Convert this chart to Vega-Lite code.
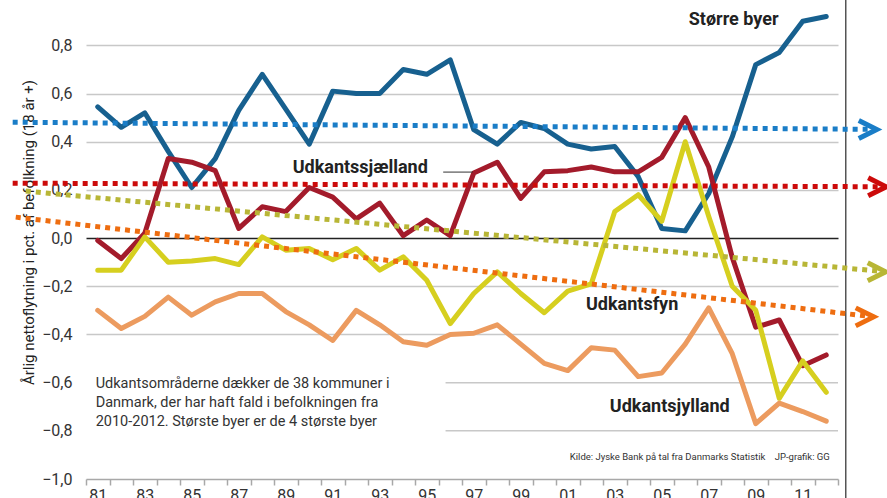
{
  "$schema": "https://vega.github.io/schema/vega-lite/v6.json",
  "autosize": {"type": "none"},
  "padding": {"left": 86, "top": 2, "right": 49, "bottom": 19},
  "width": 752,
  "height": 477,
  "config": {
    "font": "Roboto",
    "view": {"stroke": null},
    "background": "white"
  },
  "datasets": {
    "series": [
      {"series": "Større byer", "year": 1981, "value": 0.545},
      {"series": "Større byer", "year": 1982, "value": 0.46},
      {"series": "Større byer", "year": 1983, "value": 0.52},
      {"series": "Større byer", "year": 1984, "value": 0.36},
      {"series": "Større byer", "year": 1985, "value": 0.21},
      {"series": "Større byer", "year": 1986, "value": 0.33},
      {"series": "Større byer", "year": 1987, "value": 0.53},
      {"series": "Større byer", "year": 1988, "value": 0.68},
      {"series": "Større byer", "year": 1989, "value": 0.535},
      {"series": "Større byer", "year": 1990, "value": 0.39},
      {"series": "Større byer", "year": 1991, "value": 0.61},
      {"series": "Større byer", "year": 1992, "value": 0.6},
      {"series": "Større byer", "year": 1993, "value": 0.6},
      {"series": "Større byer", "year": 1994, "value": 0.7},
      {"series": "Større byer", "year": 1995, "value": 0.68},
      {"series": "Større byer", "year": 1996, "value": 0.74},
      {"series": "Større byer", "year": 1997, "value": 0.45},
      {"series": "Større byer", "year": 1998, "value": 0.39},
      {"series": "Større byer", "year": 1999, "value": 0.48},
      {"series": "Større byer", "year": 2000, "value": 0.455},
      {"series": "Større byer", "year": 2001, "value": 0.39},
      {"series": "Større byer", "year": 2002, "value": 0.37},
      {"series": "Større byer", "year": 2003, "value": 0.38},
      {"series": "Større byer", "year": 2004, "value": 0.255},
      {"series": "Større byer", "year": 2005, "value": 0.04},
      {"series": "Større byer", "year": 2006, "value": 0.03},
      {"series": "Større byer", "year": 2007, "value": 0.185},
      {"series": "Større byer", "year": 2008, "value": 0.42},
      {"series": "Større byer", "year": 2009, "value": 0.72},
      {"series": "Større byer", "year": 2010, "value": 0.77},
      {"series": "Større byer", "year": 2011, "value": 0.9},
      {"series": "Større byer", "year": 2012, "value": 0.92},
      {"series": "Udkantssjælland", "year": 1981, "value": -0.01},
      {"series": "Udkantssjælland", "year": 1982, "value": -0.085},
      {"series": "Udkantssjælland", "year": 1983, "value": 0.02},
      {"series": "Udkantssjælland", "year": 1984, "value": 0.33},
      {"series": "Udkantssjælland", "year": 1985, "value": 0.315},
      {"series": "Udkantssjælland", "year": 1986, "value": 0.28},
      {"series": "Udkantssjælland", "year": 1987, "value": 0.04},
      {"series": "Udkantssjælland", "year": 1988, "value": 0.13},
      {"series": "Udkantssjælland", "year": 1989, "value": 0.11},
      {"series": "Udkantssjælland", "year": 1990, "value": 0.21},
      {"series": "Udkantssjælland", "year": 1991, "value": 0.17},
      {"series": "Udkantssjælland", "year": 1992, "value": 0.08},
      {"series": "Udkantssjælland", "year": 1993, "value": 0.145},
      {"series": "Udkantssjælland", "year": 1994, "value": 0.01},
      {"series": "Udkantssjælland", "year": 1995, "value": 0.075},
      {"series": "Udkantssjælland", "year": 1996, "value": 0.01},
      {"series": "Udkantssjælland", "year": 1997, "value": 0.27},
      {"series": "Udkantssjælland", "year": 1998, "value": 0.315},
      {"series": "Udkantssjælland", "year": 1999, "value": 0.165},
      {"series": "Udkantssjælland", "year": 2000, "value": 0.275},
      {"series": "Udkantssjælland", "year": 2001, "value": 0.28},
      {"series": "Udkantssjælland", "year": 2002, "value": 0.295},
      {"series": "Udkantssjælland", "year": 2003, "value": 0.275},
      {"series": "Udkantssjælland", "year": 2004, "value": 0.275},
      {"series": "Udkantssjælland", "year": 2005, "value": 0.335},
      {"series": "Udkantssjælland", "year": 2006, "value": 0.5},
      {"series": "Udkantssjælland", "year": 2007, "value": 0.295},
      {"series": "Udkantssjælland", "year": 2008, "value": -0.08},
      {"series": "Udkantssjælland", "year": 2009, "value": -0.37},
      {"series": "Udkantssjælland", "year": 2010, "value": -0.34},
      {"series": "Udkantssjælland", "year": 2011, "value": -0.53},
      {"series": "Udkantssjælland", "year": 2012, "value": -0.485},
      {"series": "Udkantsfyn", "year": 1981, "value": -0.133},
      {"series": "Udkantsfyn", "year": 1982, "value": -0.133},
      {"series": "Udkantsfyn", "year": 1983, "value": 0.005},
      {"series": "Udkantsfyn", "year": 1984, "value": -0.1},
      {"series": "Udkantsfyn", "year": 1985, "value": -0.095},
      {"series": "Udkantsfyn", "year": 1986, "value": -0.085},
      {"series": "Udkantsfyn", "year": 1987, "value": -0.11},
      {"series": "Udkantsfyn", "year": 1988, "value": 0.005},
      {"series": "Udkantsfyn", "year": 1989, "value": -0.05},
      {"series": "Udkantsfyn", "year": 1990, "value": -0.043},
      {"series": "Udkantsfyn", "year": 1991, "value": -0.09},
      {"series": "Udkantsfyn", "year": 1992, "value": -0.043},
      {"series": "Udkantsfyn", "year": 1993, "value": -0.133},
      {"series": "Udkantsfyn", "year": 1994, "value": -0.078},
      {"series": "Udkantsfyn", "year": 1995, "value": -0.175},
      {"series": "Udkantsfyn", "year": 1996, "value": -0.355},
      {"series": "Udkantsfyn", "year": 1997, "value": -0.23},
      {"series": "Udkantsfyn", "year": 1998, "value": -0.14},
      {"series": "Udkantsfyn", "year": 1999, "value": -0.23},
      {"series": "Udkantsfyn", "year": 2000, "value": -0.31},
      {"series": "Udkantsfyn", "year": 2001, "value": -0.22},
      {"series": "Udkantsfyn", "year": 2002, "value": -0.19},
      {"series": "Udkantsfyn", "year": 2003, "value": 0.11},
      {"series": "Udkantsfyn", "year": 2004, "value": 0.18},
      {"series": "Udkantsfyn", "year": 2005, "value": 0.07},
      {"series": "Udkantsfyn", "year": 2006, "value": 0.4},
      {"series": "Udkantsfyn", "year": 2007, "value": 0.09},
      {"series": "Udkantsfyn", "year": 2008, "value": -0.2},
      {"series": "Udkantsfyn", "year": 2009, "value": -0.3},
      {"series": "Udkantsfyn", "year": 2010, "value": -0.665},
      {"series": "Udkantsfyn", "year": 2011, "value": -0.51},
      {"series": "Udkantsfyn", "year": 2012, "value": -0.64},
      {"series": "Udkantsjylland", "year": 1981, "value": -0.3},
      {"series": "Udkantsjylland", "year": 1982, "value": -0.375},
      {"series": "Udkantsjylland", "year": 1983, "value": -0.325},
      {"series": "Udkantsjylland", "year": 1984, "value": -0.245},
      {"series": "Udkantsjylland", "year": 1985, "value": -0.32},
      {"series": "Udkantsjylland", "year": 1986, "value": -0.265},
      {"series": "Udkantsjylland", "year": 1987, "value": -0.23},
      {"series": "Udkantsjylland", "year": 1988, "value": -0.23},
      {"series": "Udkantsjylland", "year": 1989, "value": -0.305},
      {"series": "Udkantsjylland", "year": 1990, "value": -0.36},
      {"series": "Udkantsjylland", "year": 1991, "value": -0.425},
      {"series": "Udkantsjylland", "year": 1992, "value": -0.3},
      {"series": "Udkantsjylland", "year": 1993, "value": -0.36},
      {"series": "Udkantsjylland", "year": 1994, "value": -0.43},
      {"series": "Udkantsjylland", "year": 1995, "value": -0.445},
      {"series": "Udkantsjylland", "year": 1996, "value": -0.4},
      {"series": "Udkantsjylland", "year": 1997, "value": -0.395},
      {"series": "Udkantsjylland", "year": 1998, "value": -0.36},
      {"series": "Udkantsjylland", "year": 1999, "value": -0.44},
      {"series": "Udkantsjylland", "year": 2000, "value": -0.52},
      {"series": "Udkantsjylland", "year": 2001, "value": -0.55},
      {"series": "Udkantsjylland", "year": 2002, "value": -0.455},
      {"series": "Udkantsjylland", "year": 2003, "value": -0.465},
      {"series": "Udkantsjylland", "year": 2004, "value": -0.575},
      {"series": "Udkantsjylland", "year": 2005, "value": -0.56},
      {"series": "Udkantsjylland", "year": 2006, "value": -0.44},
      {"series": "Udkantsjylland", "year": 2007, "value": -0.29},
      {"series": "Udkantsjylland", "year": 2008, "value": -0.48},
      {"series": "Udkantsjylland", "year": 2009, "value": -0.77},
      {"series": "Udkantsjylland", "year": 2010, "value": -0.685},
      {"series": "Udkantsjylland", "year": 2011, "value": -0.72},
      {"series": "Udkantsjylland", "year": 2012, "value": -0.76}
    ],
    "trend": [
      {"series": "Trend Større byer", "year": 1977.38, "value": 0.481, "end": false},
      {"series": "Trend Større byer", "year": 2014.15, "value": 0.451, "end": true},
      {"series": "Trend Udkantssjælland", "year": 1977.38, "value": 0.228, "end": false},
      {"series": "Trend Udkantssjælland", "year": 2014.55, "value": 0.213, "end": true},
      {"series": "Trend Udkantsfyn", "year": 1977.94, "value": 0.195, "end": false},
      {"series": "Trend Udkantsfyn", "year": 2014.53, "value": -0.14, "end": true},
      {"series": "Trend Udkantsjylland", "year": 1977.51, "value": 0.087, "end": false},
      {"series": "Trend Udkantsjylland", "year": 2014.02, "value": -0.327, "end": true}
    ],
    "partialGrid": [
      {"value": -0.6, "from": 1995.8, "to": 2012.5},
      {"value": -0.8, "from": 1995.8, "to": 2012.5}
    ],
    "labels": [
      {"label": "Større byer", "year": 2008.06, "value": 0.905},
      {"label": "Udkantssjælland", "year": 1992.17, "value": 0.29},
      {"label": "Udkantsfyn", "year": 2003.74, "value": -0.278},
      {"label": "Udkantsjylland", "year": 2005.34, "value": -0.7}
    ],
    "leader": [
      {"from": 1995.7, "to": 1996.96, "value": 0.274}
    ],
    "note": [
      {"text": "Udkantsområderne dækker de 38 kommuner i\nDanmark, der har haft fald i befolkningen fra\n2010-2012. Største byer er de 4 største byer", "year": 1980.91, "value": -0.577}
    ],
    "source": [
      {"text": "Kilde: Jyske Bank på tal fra Danmarks Statistik\u00a0\u00a0\u00a0\u00a0JP-grafik: GG", "year": 2012.15, "value": -0.909}
    ],
    "frame": [
      {"year": 2012.83, "from": -1.1, "to": 1.0}
    ]
  },
  "encoding": {
    "x": {
      "field": "year",
      "type": "quantitative",
      "scale": {"domain": [1980.5, 2012.5], "nice": false, "zero": false},
      "axis": {
        "title": null,
        "values": [1980.5, 1981.5, 1982.5, 1983.5, 1984.5, 1985.5, 1986.5, 1987.5, 1988.5, 1989.5, 1990.5, 1991.5, 1992.5, 1993.5, 1994.5, 1995.5, 1996.5, 1997.5, 1998.5, 1999.5, 2000.5, 2001.5, 2002.5, 2003.5, 2004.5, 2005.5, 2006.5, 2007.5, 2008.5, 2009.5, 2010.5, 2011.5, 2012.5],
        "labelExpr": "(datum.value < 2012 && (datum.value + 0.5) % 2 == 1) ? slice(toString(datum.value + 0.5), 2) : ''",
        "labelOffset": 11.75,
        "labelOverlap": false,
        "labelFlush": false,
        "labelBound": false,
        "labelFontSize": 16,
        "labelColor": "#333333",
        "labelBaseline": "top",
        "labelPadding": 2,
        "grid": false,
        "domainColor": "#a8a8a8",
        "domainWidth": 1.5,
        "tickColor": "#a8a8a8",
        "tickWidth": 1.5,
        "tickSize": 6
      }
    },
    "y": {
      "field": "value",
      "type": "quantitative",
      "scale": {"domain": [-1, 0.98], "nice": false, "zero": false},
      "axis": {
        "title": "Årlig nettoflytning i pct. af befolkning (18 år +)",
        "titleFontSize": 15,
        "titleFontWeight": "normal",
        "titleColor": "#222222",
        "titleX": -53,
        "titleY": 230,
        "titleAngle": -90,
        "titleAlign": "center",
        "titleBaseline": "alphabetic",
        "values": [-1, -0.8, -0.6, -0.4, -0.2, 0, 0.2, 0.4, 0.6, 0.8],
        "labelExpr": "replace(format(datum.value, '.1f'), '.', ',')",
        "labelFontSize": 16,
        "labelColor": "#333333",
        "labelPadding": 14,
        "ticks": false,
        "domain": false,
        "grid": true,
        "gridWidth": 1.5,
        "gridColor": {
          "condition": [
            {"test": "datum.value == 0", "value": "#222222"},
            {"test": "datum.value < -0.5", "value": "transparent"}
          ],
          "value": "#c8c8c8"
        }
      }
    }
  },
  "layer": [
    {
      "data": {"name": "partialGrid"},
      "mark": {"type": "rule", "color": "#c8c8c8", "strokeWidth": 1.5},
      "encoding": {
        "x": {"field": "from", "type": "quantitative"},
        "x2": {"field": "to"}
      }
    },
    {
      "data": {"name": "frame"},
      "mark": {"type": "rule", "color": "#555555", "strokeWidth": 1.5, "clip": false},
      "encoding": {
        "y": {"field": "from", "type": "quantitative"},
        "y2": {"field": "to"}
      }
    },
    {
      "data": {"name": "series"},
      "mark": {"type": "line", "strokeWidth": 5, "strokeJoin": "round", "strokeCap": "round", "clip": false},
      "encoding": {
        "color": {
          "field": "series",
          "type": "nominal",
          "legend": null,
          "scale": {
            "domain": ["Større byer", "Udkantssjælland", "Udkantsfyn", "Udkantsjylland", "Trend Større byer", "Trend Udkantssjælland", "Trend Udkantsfyn", "Trend Udkantsjylland"],
            "range": ["#17608f", "#a31b2b", "#d6cf1f", "#ec9b5f", "#1a7dc7", "#cc0a0a", "#b8b636", "#ee6d10"]
          }
        }
      }
    },
    {
      "data": {"name": "trend"},
      "mark": {"type": "line", "strokeWidth": 5, "strokeDash": [5, 5], "strokeCap": "butt", "clip": false},
      "encoding": {
        "color": {"field": "series", "type": "nominal", "legend": null}
      }
    },
    {
      "data": {"name": "trend"},
      "transform": [{"filter": "datum.end"}],
      "mark": {"type": "point", "shape": "M-2,-1L0,0L-2,1", "filled": false, "size": 324, "strokeWidth": 5, "strokeJoin": "miter", "opacity": 1, "clip": false},
      "encoding": {
        "color": {"field": "series", "type": "nominal", "legend": null}
      }
    },
    {
      "data": {"name": "leader"},
      "mark": {"type": "rule", "color": "#333333", "strokeWidth": 1},
      "encoding": {
        "x": {"field": "from", "type": "quantitative"},
        "x2": {"field": "to"}
      }
    },
    {
      "data": {"name": "labels"},
      "mark": {"type": "text", "fontSize": 18, "fontWeight": "bold", "color": "#222222", "align": "center", "baseline": "middle"},
      "encoding": {
        "text": {"field": "label"}
      }
    },
    {
      "data": {"name": "note"},
      "mark": {"type": "text", "fontSize": 14.5, "color": "#333333", "align": "left", "baseline": "top", "lineBreak": "\n", "lineHeight": 19},
      "encoding": {
        "text": {"field": "text"}
      }
    },
    {
      "data": {"name": "source"},
      "mark": {"type": "text", "fontSize": 9.5, "color": "#333333", "align": "right", "baseline": "middle"},
      "encoding": {
        "text": {"field": "text"}
      }
    }
  ]
}
